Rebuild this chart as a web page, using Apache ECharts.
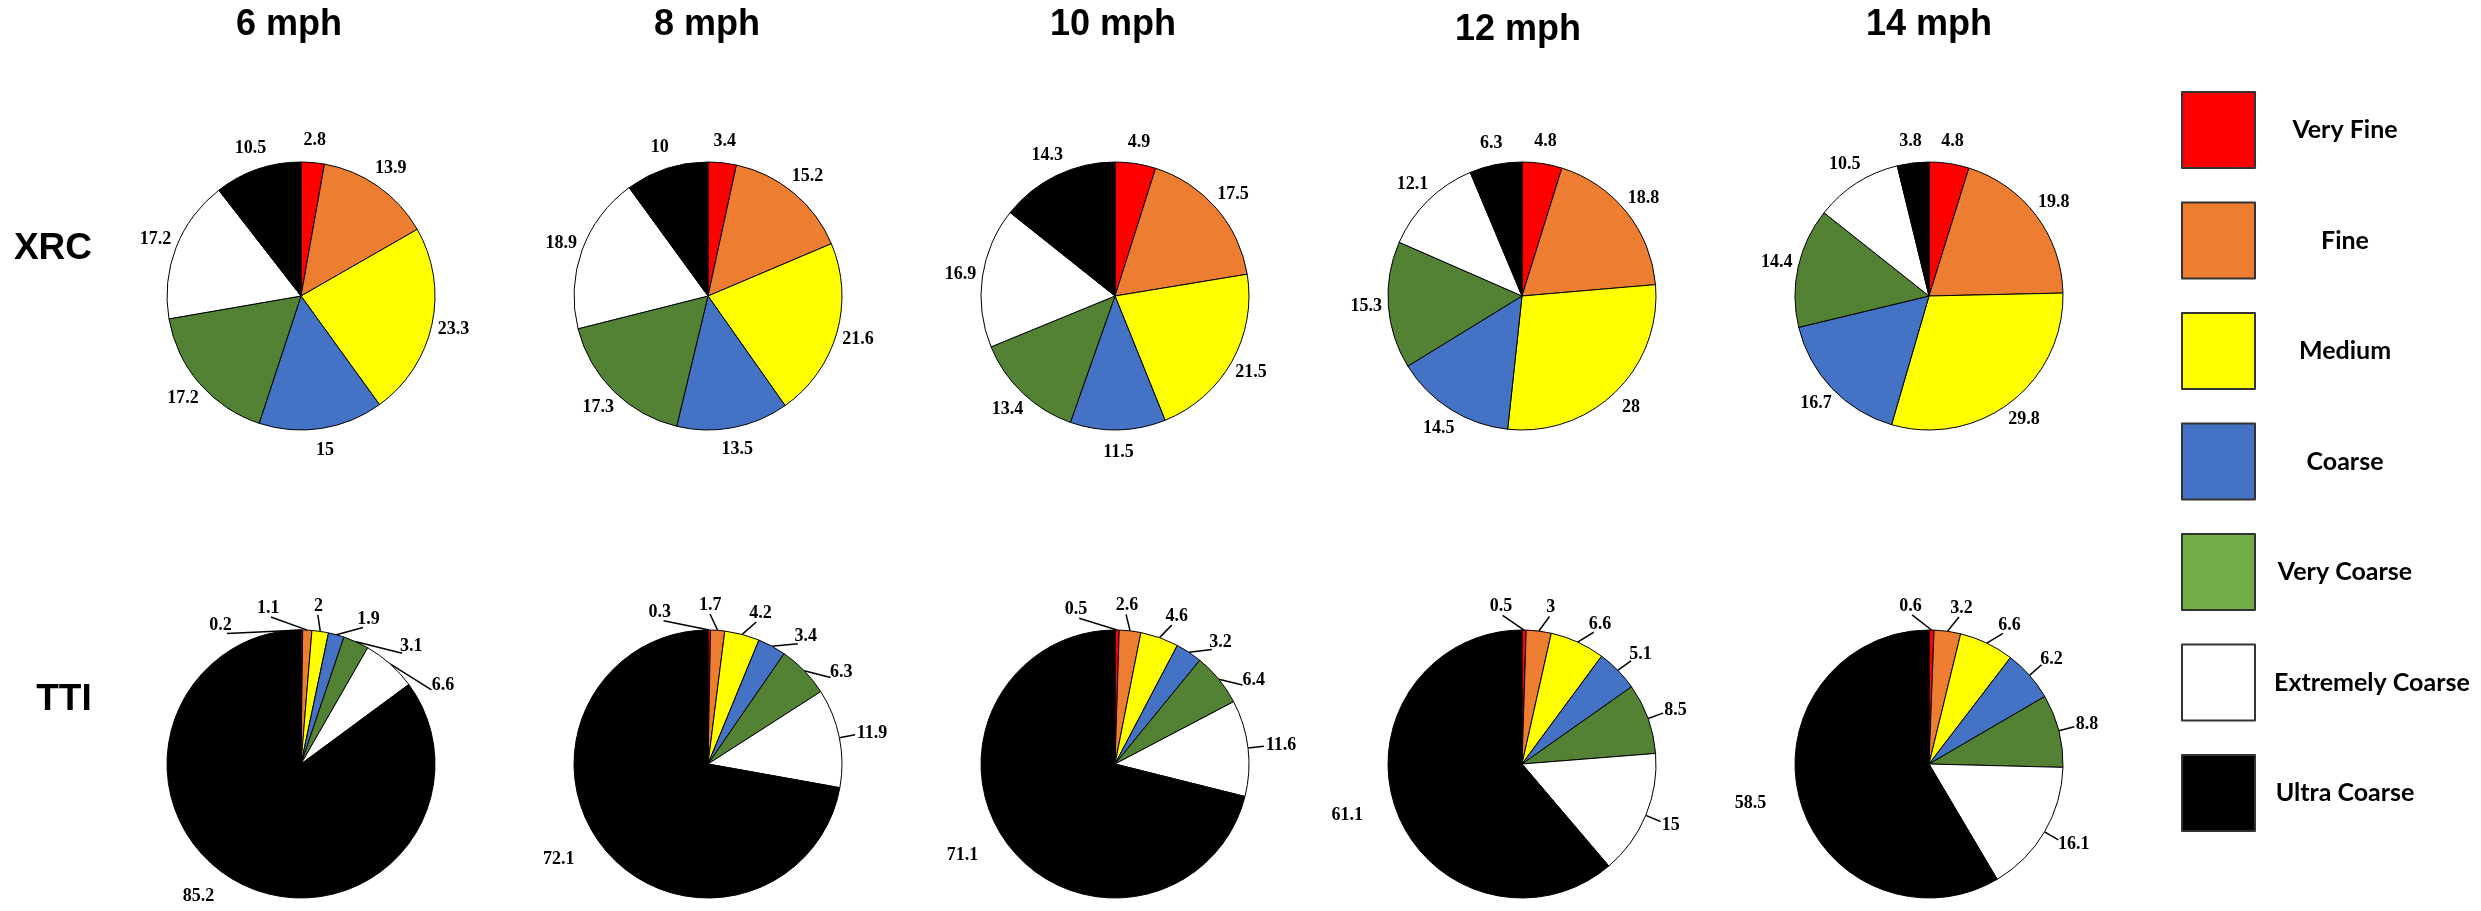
<!DOCTYPE html>
<html><head><meta charset="utf-8">
<script src="https://cdn.jsdelivr.net/npm/echarts@6/dist/echarts.min.js"></script>
<style>html,body{margin:0;padding:0;background:#fff}#c{width:2481px;height:911px}</style>
</head><body><div id="c"></div>
<script>
// ---- data ----
const categories = ['Very Fine', 'Fine', 'Medium', 'Coarse', 'Very Coarse', 'Extremely Coarse', 'Ultra Coarse'];
const speeds = ['6 mph', '8 mph', '10 mph', '12 mph', '14 mph'];
const rowLabels = ['XRC', 'TTI'];

const xrc6  = [2.8, 13.9, 23.3, 15, 17.2, 17.2, 10.5];
const xrc8  = [3.4, 15.2, 21.6, 13.5, 17.3, 18.9, 10];
const xrc10 = [4.9, 17.5, 21.5, 11.5, 13.4, 16.9, 14.3];
const xrc12 = [4.8, 18.8, 28, 14.5, 15.3, 12.1, 6.3];
const xrc14 = [4.8, 19.8, 29.8, 16.7, 14.4, 10.5, 3.8];

const tti6  = [0.2, 1.1, 2, 1.9, 3.1, 6.6, 85.2];
const tti8  = [0.3, 1.7, 4.2, 3.4, 6.3, 11.9, 72.1];
const tti10 = [0.5, 2.6, 4.6, 3.2, 6.4, 11.6, 71.1];
const tti12 = [0.5, 3, 6.6, 5.1, 8.5, 15, 61.1];
const tti14 = [0.6, 3.2, 6.6, 6.2, 8.8, 16.1, 58.5];

const xrcRows = [xrc6, xrc8, xrc10, xrc12, xrc14];
const ttiRows = [tti6, tti8, tti10, tti12, tti14];

// ---- styles / layout ----
const sliceColors  = ['#FF0000', '#ED7D31', '#FFFF00', '#4472C4', '#548235', '#FFFFFF', '#000000'];
const legendColors = ['#FF0000', '#ED7D31', '#FFFF00', '#4472C4', '#70AD47', '#FFFFFF', '#000000'];
const pieCX = [301, 708, 1115, 1522, 1929];
const rowCY = [296, 764];
const R = 134;
const titleX = [289, 707, 1113, 1518, 1929];
const titleY = [25, 25, 25, 30, 25];
const rowLabelPos = [[53, 249], [64, 700]];
const LABEL_SEP = 18; // minimum angular gap (deg) between TTI leader-line labels

const numFont = { fontFamily: 'Liberation Serif', fontWeight: 'bold', fontSize: 18, color: '#000' };

const titles = [];
speeds.forEach((s, i) => titles.push({
  text: s, left: titleX[i], top: titleY[i], padding: 0,
  textAlign: 'center', textVerticalAlign: 'middle',
  textStyle: { fontFamily: 'Liberation Sans', fontWeight: 'bold', fontSize: 36, color: '#000' }
}));
rowLabels.forEach((s, i) => titles.push({
  text: s, left: rowLabelPos[i][0], top: rowLabelPos[i][1], padding: 0,
  textAlign: 'center', textVerticalAlign: 'middle',
  textStyle: { fontFamily: 'Liberation Sans', fontWeight: 'bold', fontSize: 37, color: '#000' }
}));

function mkData(vals) {
  return vals.map((v, k) => ({ name: categories[k], value: v, itemStyle: { color: sliceColors[k] } }));
}

// spread the small-slice labels around the top so they keep a minimum angular gap
function spreadAngles(vals) {
  const total = vals.reduce((a, b) => a + b, 0);
  let acc = 0; const mids = [];
  vals.forEach(v => { mids.push((acc + v / 2) / total * 360); acc += v; });
  const n = vals.length - 1;
  const blocks = [];
  for (let i = 0; i < n; i++) {
    blocks.push({ sum: mids[i] - i * LABEL_SEP, cnt: 1 });
    while (blocks.length > 1) {
      const a = blocks[blocks.length - 2], b = blocks[blocks.length - 1];
      if (a.sum / a.cnt > b.sum / b.cnt) { blocks.pop(); a.sum += b.sum; a.cnt += b.cnt; } else break;
    }
  }
  const out = []; let i = 0;
  blocks.forEach(b => { for (let k = 0; k < b.cnt; k++) { out.push(b.sum / b.cnt + i * LABEL_SEP); i++; } });
  return out;
}

const series = [];
xrcRows.forEach((vals, i) => {
  series.push({
    type: 'pie', center: [pieCX[i], rowCY[0]], radius: [0, R], startAngle: 90, clockwise: true,
    silent: true, label: { show: false }, labelLine: { show: false },
    itemStyle: { borderColor: '#000', borderWidth: 1 },
    data: mkData(vals)
  });
  // label ring: same data, invisible, labels centred around the pie
  series.push({
    type: 'pie', center: [pieCX[i], rowCY[0]], radius: [R + 18, R + 20], startAngle: 90, clockwise: true,
    silent: true, avoidLabelOverlap: false,
    itemStyle: { color: 'rgba(0,0,0,0)', borderWidth: 0 },
    label: Object.assign({ show: true, position: 'inside', formatter: '{c}' }, numFont),
    labelLine: { show: false },
    data: vals.map((v, k) => ({ name: categories[k], value: v }))
  });
});
ttiRows.forEach((vals, i) => {
  const data = mkData(vals);
  data[data.length - 1].labelLine = { show: false };
  const angles = spreadAngles(vals);
  const cx = pieCX[i], cy = rowCY[1];
  series.push({
    type: 'pie', center: [cx, cy], radius: [0, R], startAngle: 90, clockwise: true,
    silent: true, avoidLabelOverlap: true,
    itemStyle: { borderColor: '#000', borderWidth: 1 },
    label: Object.assign({ show: true, position: 'outside', formatter: '{c}', distanceToLabelLine: 2 }, numFont),
    labelLine: { show: true, length: 14, length2: 18, lineStyle: { color: '#000', width: 1.5 } },
    labelLayout: function (p) {
      const k = p.dataIndex;
      if (k >= angles.length) return {};
      const th = angles[k] * Math.PI / 180;
      const sx = Math.sin(th), sy = -Math.cos(th);
      const ax = cx + (R + 16) * sx, ay = cy + (R + 16) * sy;
      const w = p.labelRect.width, h = p.labelRect.height;
      const tx = ax + (w / 2 + 2) * sx, ty = ay + (h / 2) * sy;
      const p0 = (p.labelLinePoints && p.labelLinePoints[0]) || [ax, ay];
      return { x: tx, y: ty, align: 'center', verticalAlign: 'middle', labelLinePoints: [p0, [ax, ay]] };
    },
    data: data
  });
});

const chart = echarts.init(document.getElementById('c'));
chart.setOption({
  backgroundColor: '#fff',
  animation: false,
  title: titles,
  legend: {
    orient: 'vertical', left: 2181, top: 91, padding: 0,
    itemWidth: 73, itemHeight: 76, itemGap: 32.5, icon: 'rect', selectedMode: false,
    itemStyle: { borderColor: '#333', borderWidth: 2 },
    data: categories.map((n, k) => ({ name: n, itemStyle: { color: legendColors[k], borderColor: '#333', borderWidth: 2 } })),
    formatter: n => (n.length > 12 ? '{b|' + n + '}' : '{a|' + n + '}'),
    textStyle: {
      fontFamily: 'Lato', fontWeight: 'bold', fontSize: 25, color: '#000',
      rich: {
        a: { fontFamily: 'Lato', fontWeight: 'bold', fontSize: 25, color: '#000', width: 170, align: 'center' },
        b: { fontFamily: 'Lato', fontWeight: 'bold', fontSize: 25, color: '#000', padding: [0, 0, 0, 14] }
      }
    }
  },
  series: series
});
</script></body></html>
